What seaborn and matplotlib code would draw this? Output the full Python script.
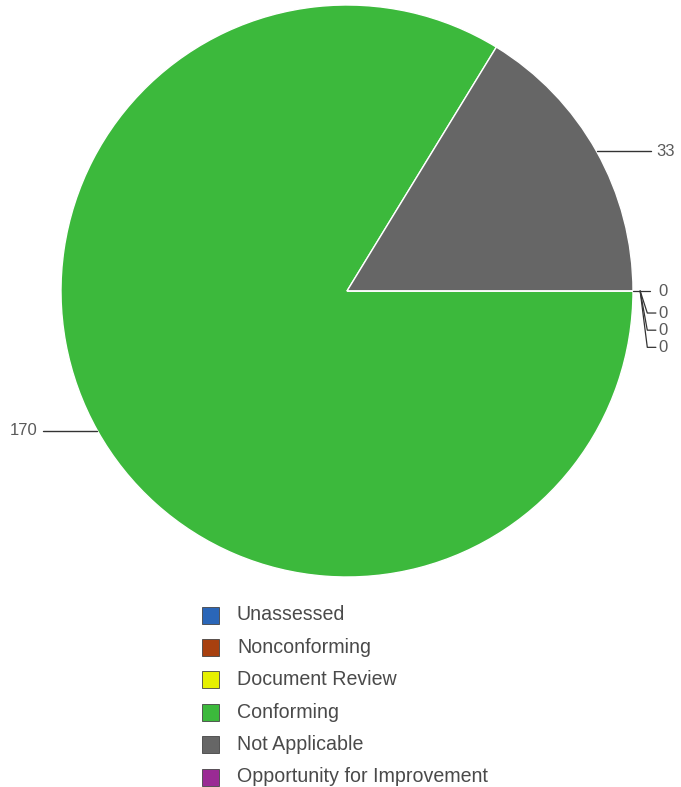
import numpy as np
import matplotlib
matplotlib.use("Agg")
import matplotlib.pyplot as plt
import seaborn as sns

sns.set_theme(style="white")
plt.rcParams['font.family'] = ['Liberation Sans', 'DejaVu Sans']

categories = ["Unassessed", "Nonconforming", "Document Review", "Conforming",
              "Not Applicable", "Opportunity for Improvement"]
counts = [0, 0, 0, 170, 33, 0]
colors = ["#2a66b8", "#a8400f", "#e6f000", "#3cb93c", "#666666", "#9a2a94"]

W, H = 681, 787
fig = plt.figure(figsize=(W / 100, H / 100), dpi=100)
fig.patch.set_facecolor("white")

# pie axes placed by its centre and radius in pixels
cx, cy, r = 347, 291, 286
ax = fig.add_axes([(cx - r) / W, (H - cy - r) / H, 2 * r / W, 2 * r / H])
wedges, _ = ax.pie(counts, colors=colors, startangle=0, counterclock=False,
                   radius=1.0, wedgeprops=dict(edgecolor="white", linewidth=1.0))
ax.set_xlim(-1, 1)
ax.set_ylim(-1, 1)
ax.set_aspect("auto")
ax.axis("off")

label_color = "#5a5a5a"
zero_rank = 0
for w, val in zip(wedges, counts):
    mid = np.deg2rad((w.theta1 + w.theta2) / 2)
    ex, ey = np.cos(mid), np.sin(mid)
    if val > 0:
        side = 1 if ex >= 0 else -1
        x_end = ex + side * 0.19
        ax.plot([ex, x_end], [ey, ey], color="#333333", lw=1.0, clip_on=False)
        ax.text(x_end + side * 0.02, ey, str(val), ha="left" if side > 0 else "right",
                va="center", fontsize=12, color=label_color)
    else:
        dy = -[0, 0.077, 0.137, 0.197][zero_rank]
        xk = ex + 0.035 + (0.015 if zero_rank else 0.0)
        if zero_rank == 0:
            ax.plot([ex, ex + 0.06], [ey, ey], color="#333333", lw=0.9, clip_on=False)
        else:
            ax.plot([ex + 0.025, xk, xk + 0.03], [ey, ey + dy, ey + dy],
                    color="#333333", lw=0.9, clip_on=False)
        ax.text(ex + 0.09, ey + dy, str(val), ha="left", va="center",
                fontsize=12, color=label_color)
        zero_rank += 1

# legend drawn as a vertical list beneath the pie
leg_ax = fig.add_axes([0, 0, 1, 1], facecolor="none")
leg_ax.set_xlim(0, W)
leg_ax.set_ylim(H, 0)
leg_ax.axis("off")
y0, step, sq = 615, 32.4, 17
for i, (name, col) in enumerate(zip(categories, colors)):
    y = y0 + i * step
    leg_ax.add_patch(plt.Rectangle((202, y - sq / 2), sq, sq, facecolor=col,
                                   edgecolor="#444444", linewidth=0.6))
    leg_ax.text(237, y, name, ha="left", va="center", fontsize=14.1, color="#4a4a4a")

fig.savefig("out.png", dpi=100, facecolor="white")
